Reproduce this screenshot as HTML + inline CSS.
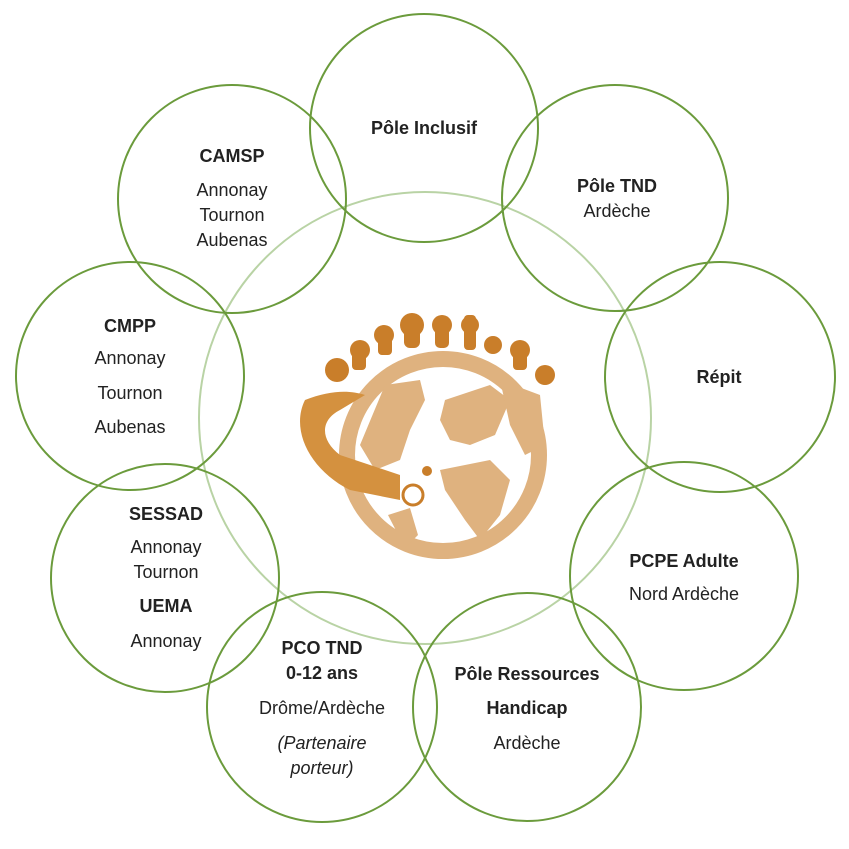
<!DOCTYPE html>
<html><head><meta charset="utf-8"><style>
body{margin:0;background:#fff}
svg text{font-family:"Liberation Sans",Calibri,sans-serif;font-size:18px;fill:#222;text-anchor:middle}
.b{font-weight:bold}
</style></head><body>
<svg width="849" height="844" viewBox="0 0 849 844" xmlns="http://www.w3.org/2000/svg">
<circle cx="425" cy="418" r="226" fill="none" stroke="#b9d3a5" stroke-width="2"/>
<g fill="none" stroke="#6b9b3c" stroke-width="2">
<circle cx="424" cy="128" r="114"/>
<circle cx="232" cy="199" r="114"/>
<circle cx="615" cy="198" r="113"/>
<circle cx="720" cy="377" r="115"/>
<circle cx="130" cy="376" r="114"/>
<circle cx="165" cy="578" r="114"/>
<circle cx="684" cy="576" r="114"/>
<circle cx="322" cy="707" r="115"/>
<circle cx="527" cy="707" r="114"/>
</g>
<!-- globe -->
<circle cx="443" cy="455" r="96" fill="#fff" stroke="#dfb27f" stroke-width="16"/>
<path d="M385 385 L420 380 L425 400 L410 430 L400 460 L375 470 L360 445 Z" fill="#dfb27f"/>
<path d="M445 400 L490 385 L510 400 L495 435 L470 445 L450 440 L440 420 Z" fill="#dfb27f"/>
<path d="M440 470 L490 460 L510 480 L500 515 L480 540 L465 520 L445 490 Z" fill="#dfb27f"/>
<path d="M500 380 L540 395 L545 445 L525 455 L510 425 Z" fill="#dfb27f"/>
<path d="M388 515 L410 508 L418 535 L405 548 Z" fill="#dfb27f"/>
<path d="M305 400 C330 390 350 390 365 395 L340 410 C320 420 320 440 340 455 L400 475 L400 500 L350 490 C310 470 290 430 305 400 Z" fill="#d4913f"/>
<circle cx="413" cy="495" r="10" fill="none" stroke="#c97e2a" stroke-width="3"/>
<circle cx="427" cy="471" r="5" fill="#c97e2a"/>
<g fill="#c97e2a">
<circle cx="337" cy="370" r="12"/><circle cx="360" cy="350" r="10"/><circle cx="384" cy="335" r="10"/>
<circle cx="412" cy="325" r="12"/><circle cx="442" cy="325" r="10"/><circle cx="470" cy="325" r="9"/>
<circle cx="493" cy="345" r="9"/><circle cx="520" cy="350" r="10"/><circle cx="545" cy="375" r="10"/>
<rect x="352" y="345" width="14" height="25" rx="4"/><rect x="378" y="330" width="14" height="25" rx="4"/>
<rect x="404" y="318" width="16" height="30" rx="6"/><rect x="435" y="318" width="14" height="30" rx="5"/>
<rect x="464" y="315" width="12" height="35" rx="4"/><rect x="513" y="345" width="14" height="25" rx="4"/>
</g>
<text x="424" y="134" class="b">Pôle Inclusif</text>
<text x="232" y="162" class="b">CAMSP</text>
<text x="232" y="196">Annonay</text><text x="232" y="221">Tournon</text><text x="232" y="246">Aubenas</text>
<text x="617" y="192" class="b">Pôle TND</text><text x="617" y="217">Ardèche</text>
<text x="719" y="383" class="b">Répit</text>
<text x="130" y="332" class="b">CMPP</text>
<text x="130" y="364">Annonay</text><text x="130" y="399">Tournon</text><text x="130" y="433">Aubenas</text>
<text x="166" y="520" class="b">SESSAD</text>
<text x="166" y="553">Annonay</text><text x="166" y="578">Tournon</text>
<text x="166" y="612" class="b">UEMA</text><text x="166" y="647">Annonay</text>
<text x="684" y="567" class="b">PCPE Adulte</text><text x="684" y="600">Nord Ardèche</text>
<text x="322" y="654" class="b">PCO TND</text><text x="322" y="679" class="b">0-12 ans</text>
<text x="322" y="714">Drôme/Ardèche</text>
<text x="322" y="749" font-style="italic">(Partenaire</text><text x="322" y="774" font-style="italic">porteur)</text>
<text x="527" y="680" class="b">Pôle Ressources</text><text x="527" y="714" class="b">Handicap</text>
<text x="527" y="749">Ardèche</text>
</svg>
</body></html>
